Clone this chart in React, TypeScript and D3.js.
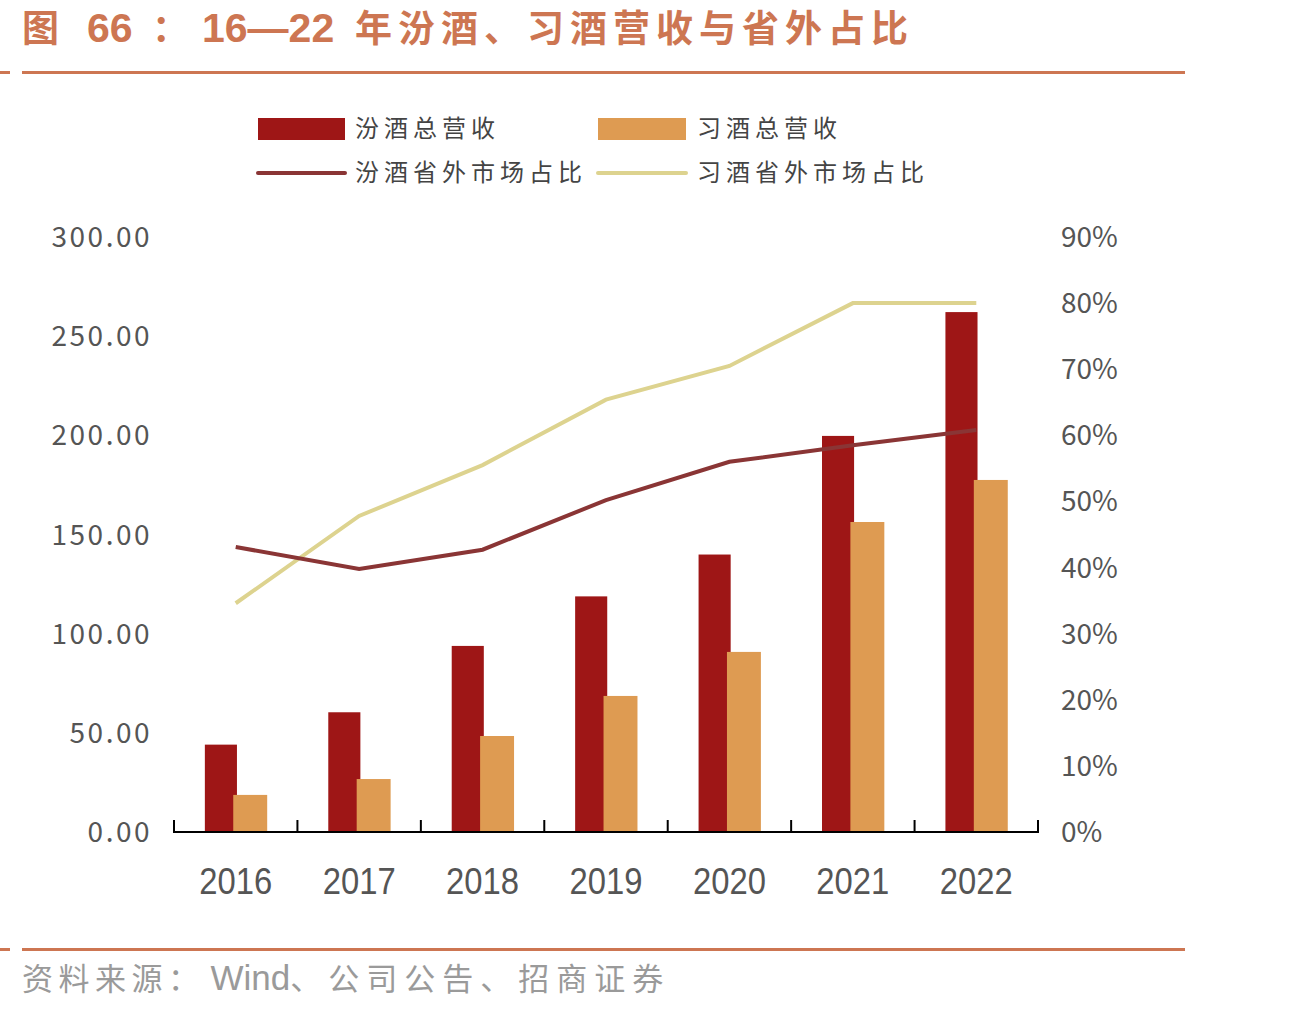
import * as d3 from "d3";

const years = ["2016", "2017", "2018", "2019", "2020", "2021", "2022"];
const fenRevenue = [44.05, 60.37, 93.82, 118.8, 139.9, 199.71, 262.14];
const xiRevenue = [18.7, 26.7, 48.4, 68.6, 90.8, 156.3, 177.5];
const fenOutShare = [0.431, 0.398, 0.427, 0.502, 0.56, 0.585, 0.608];
const xiOutShare = [0.346, 0.478, 0.555, 0.654, 0.705, 0.8, 0.8];
const leftTicks = [0, 50, 100, 150, 200, 250, 300];
const rightTicks = [0, 0.1, 0.2, 0.3, 0.4, 0.5, 0.6, 0.7, 0.8, 0.9];

const W = 1306;
const H = 1012;
const left = 174;
const right = 1038;
const top = 237;
const bottom = 832;

const RED = "#9e1616";
const ORANGE = "#de9b52";
const RED_LINE = "#8a3535";
const YELLOW_LINE = "#ddd38f";
const ACCENT = "#cd7652";
const CJK = "'Noto Sans CJK SC', 'Noto Sans', sans-serif";
const LATIN = "'Liberation Sans', Arial, sans-serif";

export default function App() {
  const x = d3.scaleBand<string>().domain(years).range([left, right]).padding(0);
  const yL = d3.scaleLinear().domain([0, 300]).range([bottom, top]);
  const yR = d3.scaleLinear().domain([0, 0.9]).range([bottom, top]);
  const bw = x.bandwidth();
  const center = (y: string) => (x(y) ?? 0) + bw / 2;

  const line = (vals: number[]) =>
    d3
      .line<number>()
      .x((_, i) => center(years[i]))
      .y((d) => yR(d))(vals) ?? "";

  const fmtL = d3.format(".2f");
  const fmtR = d3.format(".0%");
  const tickX = [...years.map((y) => x(y) ?? 0), right];

  return (
    <svg width={W} height={H} style={{ position: "absolute", left: 0, top: 0, background: "#fff" }}>
      {/* title */}
      <g fill={ACCENT} fontFamily={CJK} fontWeight="bold" fontSize={37}>
        <text x={22} y={42}>图</text>
        <text x={87} y={42} fontFamily={LATIN} fontSize={41}>66</text>
        <text x={152} y={42}>：</text>
        <text x={202} y={42} fontFamily={LATIN} fontSize={41}>16—22</text>
        <text x={355} y={42} letterSpacing={6}>年汾酒、习酒营收与省外占比</text>
      </g>
      <rect x={0} y={71} width={10} height={3} fill={ACCENT} />
      <rect x={22} y={71} width={1163} height={3} fill={ACCENT} />

      {/* legend */}
      <g fontFamily={CJK} fontSize={24} fill="#444" letterSpacing={5}>
        <rect x={258} y={118} width={87} height={22} fill={RED} />
        <text x={355} y={137}>汾酒总营收</text>
        <rect x={598} y={118} width={88} height={22} fill={ORANGE} />
        <text x={697} y={137}>习酒总营收</text>
        <line x1={258} x2={345} y1={173} y2={173} stroke={RED_LINE} strokeWidth={4} strokeLinecap="round" />
        <text x={355} y={181}>汾酒省外市场占比</text>
        <line x1={598} x2={686} y1={173} y2={173} stroke={YELLOW_LINE} strokeWidth={4} strokeLinecap="round" />
        <text x={697} y={181}>习酒省外市场占比</text>
      </g>

      {/* bars */}
      {years.map((y, i) => (
        <g key={y}>
          <rect
            x={(x(y) ?? 0) + bw * 0.25}
            y={yL(fenRevenue[i])}
            width={bw * 0.26}
            height={bottom - yL(fenRevenue[i])}
            fill={RED}
          />
          <rect
            x={(x(y) ?? 0) + bw * 0.48}
            y={yL(xiRevenue[i])}
            width={bw * 0.275}
            height={bottom - yL(xiRevenue[i])}
            fill={ORANGE}
          />
        </g>
      ))}

      {/* lines */}
      <path d={line(xiOutShare)} fill="none" stroke={YELLOW_LINE} strokeWidth={4} />
      <path d={line(fenOutShare)} fill="none" stroke={RED_LINE} strokeWidth={4} />

      {/* x axis */}
      <line x1={left} x2={right} y1={bottom} y2={bottom} stroke="#000" strokeWidth={2} />
      {tickX.map((tx, i) => (
        <line key={i} x1={tx} x2={tx} y1={bottom - 12} y2={bottom + 1} stroke="#000" strokeWidth={2} />
      ))}
      <g fontFamily="'Liberation Sans Narrow', 'Liberation Sans', sans-serif" fontSize={37} fill="#555" textAnchor="middle">
        {years.map((y) => (
          <text key={y} x={center(y)} y={894} textLength={73} lengthAdjust="spacingAndGlyphs">{y}</text>
        ))}
      </g>

      {/* left axis */}
      <g fontFamily={CJK} fontSize={28} fill="#555" textAnchor="end" letterSpacing={2.5}>
        {leftTicks.map((t) => (
          <text key={t} x={152} y={yL(t) + 10}>{fmtL(t)}</text>
        ))}
      </g>

      {/* right axis */}
      <g fontFamily={CJK} fontSize={28} fill="#555" textAnchor="start">
        {rightTicks.map((t) => (
          <text key={t} x={1061} y={yR(t) + 10}>{fmtR(t)}</text>
        ))}
      </g>

      {/* source */}
      <rect x={0} y={948} width={10} height={3} fill={ACCENT} />
      <rect x={22} y={948} width={1163} height={3} fill={ACCENT} />
      <text x={22} y={990} fontFamily={CJK} fontSize={31} fill="#9a9a9a" letterSpacing={5.5}>
        资料来源：
        <tspan fontFamily={LATIN} fontSize={35} letterSpacing={0} dx={6}>Wind</tspan>
        <tspan letterSpacing={7}>、公司公告、招商证券</tspan>
      </text>
    </svg>
  );
}
